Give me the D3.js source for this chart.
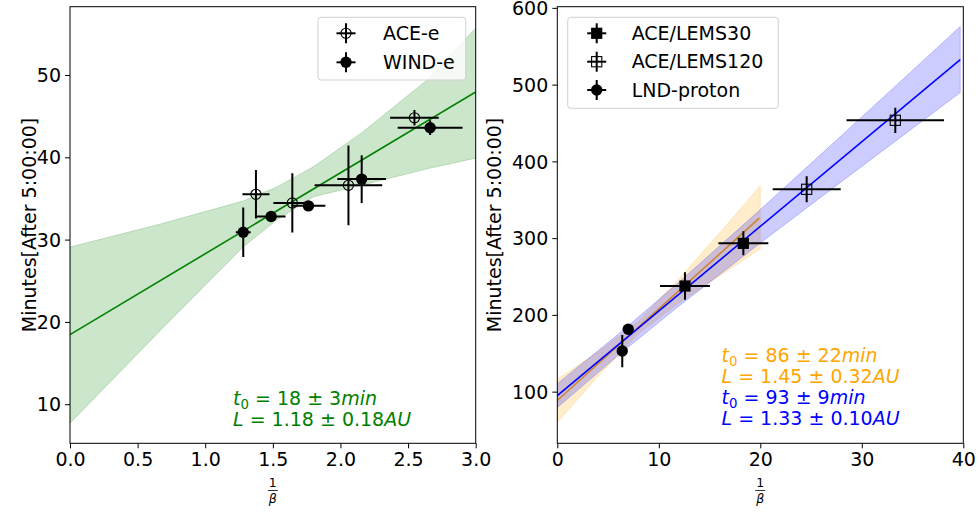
<!DOCTYPE html>
<html><head><meta charset="utf-8">
<script src="https://cdn.jsdelivr.net/npm/d3@7"></script>
<style>body{margin:0;background:#fff} text{font-family:"DejaVu Sans",sans-serif}</style>
</head><body><svg id="c" width="979" height="512"></svg>
<script>
// ---------- Left panel data ----------
const aceE_x    = [1.375, 1.644, 2.059, 2.547];
const aceE_y    = [35.5, 34.45, 36.6, 44.8];
const aceE_xerr = [0.10, 0.14, 0.25, 0.18];
const aceE_yerr = [2.95, 3.6, 4.85, 0.95];

const windE_x    = [1.281, 1.487, 1.763, 2.157, 2.663];
const windE_y    = [30.9, 32.8, 34.1, 37.35, 43.6];
const windE_xerr = [0.055, 0.107, 0.125, 0.18, 0.24];
const windE_yerr = [3.0, 0.3, 0.6, 2.9, 0.9];

const greenFit_x = [0, 3];
const greenFit_y = [18.45, 47.95];
const greenBand_x  = [0, 0.67, 1.28, 1.53, 1.8, 2.15, 2.4, 2.64, 3.0];
const greenBand_hi = [29.1, 31.9, 34.7, 36.4, 38.85, 42.9, 46.2, 49.4, 55.7];
const greenBand_lo = [7.7, 19.0, 29.1, 32.4, 35.2, 36.6, 37.6, 38.6, 39.9];

const leftXTicks = [0, 0.5, 1.0, 1.5, 2.0, 2.5, 3.0];
const leftYTicks = [10, 20, 30, 40, 50];

// ---------- Right panel data ----------
const lems30_x    = [12.58, 18.33];
const lems30_y    = [237.6, 293.2];
const lems30_xerr = [2.46, 2.46];
const lems30_yerr = [18, 15.6];

const lems120_x    = [24.57, 33.3];
const lems120_y    = [363.6, 453.5];
const lems120_xerr = [3.35, 4.8];
const lems120_yerr = [17, 16.5];

const lnd_x    = [6.40, 6.99];
const lnd_y    = [152.9, 181.2];
const lnd_xerr = [0.1, 0.1];
const lnd_yerr = [21, 3];

const blueFit_x = [0, 39.7];
const blueFit_y = [94.8, 532.5];
const blueBand_x  = [0, 6, 12, 20, 28, 34, 39.7];
const blueBand_lo = [79.3, 147.3, 211.7, 293.6, 373.6, 433.2, 489.6];
const blueBand_hi = [110.3, 174.7, 242.7, 337.2, 433.6, 506.4, 575.8];

const orangeFit_x = [0, 19.9];
const orangeFit_y = [88.5, 326];
const orangeBand_x  = [0, 4, 8, 12, 16, 20];
const orangeBand_lo = [60, 120, 175.4, 215.7, 251, 286];
const orangeBand_hi = [116, 151.5, 191.8, 247.1, 307, 368];

const rightXTicks = [0, 10, 20, 30, 40];
const rightYTicks = [100, 200, 300, 400, 500, 600];

// ---------- drawing ----------
const svg = d3.select("#c");
const FS = 19;
const yTop = 6.7, yBot = 443.3;

function panel(opts) {
  const x = d3.scaleLinear().domain(opts.xdom).range([opts.x0, opts.x1]);
  const y = d3.scaleLinear().domain(opts.ydom).range([yBot, yTop]);
  const g = svg.append("g");
  g.append("defs").append("clipPath").attr("id", opts.id)
    .append("rect").attr("x", opts.x0).attr("y", yTop)
    .attr("width", opts.x1 - opts.x0).attr("height", yBot - yTop);
  const plot = g.append("g").attr("clip-path", `url(#${opts.id})`);
  return {x, y, g, plot};
}

function band(P, xs, lo, hi, color) {
  const d = xs.map((v, i) => ({x: v, lo: lo[i], hi: hi[i]}));
  const area = d3.area().x(q => P.x(q.x)).y0(q => P.y(q.lo)).y1(q => P.y(q.hi));
  P.plot.append("path").attr("d", area(d)).attr("fill", color).attr("fill-opacity", 0.2)
    .attr("stroke", color).attr("stroke-opacity", 0.2).attr("stroke-width", 1);
}
function fitLine(P, xs, ys, color) {
  const d = xs.map((v, i) => [v, ys[i]]);
  P.plot.append("path").attr("d", d3.line().x(q => P.x(q[0])).y(q => P.y(q[1]))(d))
    .attr("fill", "none").attr("stroke", color).attr("stroke-width", 1.6);
}
function errPoints(P, xs, ys, xe, ye, marker) {
  const gg = P.plot.append("g");
  xs.forEach((v, i) => {
    const cx = P.x(v), cy = P.y(ys[i]);
    gg.append("line").attr("x1", P.x(v - xe[i])).attr("x2", P.x(v + xe[i]))
      .attr("y1", cy).attr("y2", cy).attr("stroke", "#000").attr("stroke-width", 2);
    gg.append("line").attr("x1", cx).attr("x2", cx)
      .attr("y1", P.y(ys[i] - ye[i])).attr("y2", P.y(ys[i] + ye[i]))
      .attr("stroke", "#000").attr("stroke-width", 2);
    drawMarker(gg, cx, cy, marker);
  });
}
function drawMarker(gg, cx, cy, m) {
  if (m === "fc") gg.append("circle").attr("cx", cx).attr("cy", cy).attr("r", 5.7).attr("fill", "#000");
  if (m === "oc") gg.append("circle").attr("cx", cx).attr("cy", cy).attr("r", 5.1)
      .attr("fill", "none").attr("stroke", "#000").attr("stroke-width", 1.1);
  if (m === "fs") gg.append("rect").attr("x", cx - 5.6).attr("y", cy - 5.6).attr("width", 11.2).attr("height", 11.2).attr("fill", "#000");
  if (m === "os") gg.append("rect").attr("x", cx - 5.1).attr("y", cy - 5.1).attr("width", 10.2).attr("height", 10.2)
      .attr("fill", "none").attr("stroke", "#000").attr("stroke-width", 1.1);
}
function axes(P, xt, yt, xfmt, yfmt, opts) {
  const ax = P.g.append("g").attr("transform", `translate(0,${yBot})`)
    .call(d3.axisBottom(P.x).tickValues(xt).tickFormat(xfmt).tickSize(5).tickPadding(4));
  const ay = P.g.append("g").attr("transform", `translate(${opts.x0},0)`)
    .call(d3.axisLeft(P.y).tickValues(yt).tickFormat(yfmt).tickSize(5).tickPadding(4));
  [ax, ay].forEach(a => {
    a.select(".domain").remove();
    a.selectAll("text").attr("font-size", FS).attr("fill", "#000").attr("font-family", "DejaVu Sans");
    a.selectAll("line").attr("stroke", "#000").attr("stroke-width", 1);
  });
  ay.selectAll("text").attr("dy", "0.35em");
  P.g.append("rect").attr("x", opts.x0).attr("y", yTop).attr("width", opts.x1 - opts.x0)
    .attr("height", yBot - yTop).attr("fill", "none").attr("stroke", "#000").attr("stroke-width", 1);
  P.g.append("text").attr("transform", `translate(${opts.ylabX},${(yTop + yBot) / 2}) rotate(-90)`)
    .attr("text-anchor", "middle").attr("font-size", FS).text("Minutes[After 5:00:00]");
  const cx = (opts.x0 + opts.x1) / 2;
  P.g.append("text").attr("x", cx).attr("y", 487).attr("text-anchor", "middle").attr("font-size", 12.5).text("1");
  P.g.append("line").attr("x1", cx - 5).attr("x2", cx + 5).attr("y1", 490.5).attr("y2", 490.5)
    .attr("stroke", "#000").attr("stroke-width", 0.8);
  P.g.append("text").attr("x", cx).attr("y", 502.5).attr("text-anchor", "middle").attr("font-size", 12.5)
    .attr("font-style", "italic").text("β");
}
function mathText(x, y, parts, color) {
  const t = svg.append("text").attr("x", x).attr("y", y).attr("font-size", FS).attr("fill", color);
  parts.forEach(p => {
    const s = t.append("tspan").text(p.t);
    if (p.it) s.attr("font-style", "italic");
    if (p.sub) s.attr("font-size", FS * 0.7).attr("dy", 4);
    if (p.after) s.attr("dy", -4);
  });
}
function legend(x, y, w, h, items, mx, tx, rows) {
  const g = svg.append("g");
  g.append("rect").attr("x", x).attr("y", y).attr("width", w).attr("height", h).attr("rx", 3)
    .attr("fill", "#fff").attr("fill-opacity", 0.8).attr("stroke", "#d0d0d0").attr("stroke-width", 1);
  items.forEach((it, i) => {
    const cy = rows[i];
    g.append("line").attr("x1", mx - 9.5).attr("x2", mx + 9.5).attr("y1", cy).attr("y2", cy).attr("stroke", "#000").attr("stroke-width", 2);
    g.append("line").attr("x1", mx).attr("x2", mx).attr("y1", cy - 10).attr("y2", cy + 10).attr("stroke", "#000").attr("stroke-width", 2);
    drawMarker(g, mx, cy, it.m);
    g.append("text").attr("x", tx).attr("y", cy).attr("dy", "0.35em").attr("font-size", FS).text(it.label);
  });
}

// ----- Left panel -----
const LP = panel({id: "clipL", xdom: [0, 3], ydom: [5.25, 58.3], x0: 70, x1: 475.7});
band(LP, greenBand_x, greenBand_lo, greenBand_hi, "#008000");
fitLine(LP, greenFit_x, greenFit_y, "#008000");
errPoints(LP, aceE_x, aceE_y, aceE_xerr, aceE_yerr, "oc");
errPoints(LP, windE_x, windE_y, windE_xerr, windE_yerr, "fc");
axes(LP, leftXTicks, leftYTicks, d3.format(".1f"), d3.format("d"), {x0: 70, x1: 475.7, ylabX: 36});
legend(318, 17.3, 147.7, 62.7, [{m: "oc", label: "ACE-e"}, {m: "fc", label: "WIND-e"}], 346, 383, [33.3, 62.3]);
mathText(233, 405, [{t: "t", it: true}, {t: "0", sub: true}, {t: " = 18 ± 3", after: true}, {t: "min", it: true}], "#008000");
mathText(233, 426, [{t: "L", it: true}, {t: " = 1.18 ± 0.18"}, {t: "AU", it: true}], "#008000");

// ----- Right panel -----
const RP = panel({id: "clipR", xdom: [0, 40], ydom: [32.7, 601.5], x0: 557.3, x1: 963.3});
band(RP, orangeBand_x, orangeBand_lo, orangeBand_hi, "#FFA500");
fitLine(RP, orangeFit_x, orangeFit_y, "#FFA500");
band(RP, blueBand_x, blueBand_lo, blueBand_hi, "#0000FF");
fitLine(RP, blueFit_x, blueFit_y, "#0000FF");
errPoints(RP, lems30_x, lems30_y, lems30_xerr, lems30_yerr, "fs");
errPoints(RP, lems120_x, lems120_y, lems120_xerr, lems120_yerr, "os");
errPoints(RP, lnd_x, lnd_y, lnd_xerr, lnd_yerr, "fc");
axes(RP, rightXTicks, rightYTicks, d3.format("d"), d3.format("d"), {x0: 557.3, x1: 963.3, ylabX: 501});
legend(567.7, 17.3, 210.6, 91, [{m: "fs", label: "ACE/LEMS30"}, {m: "os", label: "ACE/LEMS120"}, {m: "fc", label: "LND-proton"}], 596.7, 631.7, [33.3, 61.7, 90]);
mathText(721.5, 362, [{t: "t", it: true}, {t: "0", sub: true}, {t: " = 86 ± 22", after: true}, {t: "min", it: true}], "#FFA500");
mathText(721.5, 383.3, [{t: "L", it: true}, {t: " = 1.45 ± 0.32"}, {t: "AU", it: true}], "#FFA500");
mathText(721.5, 404, [{t: "t", it: true}, {t: "0", sub: true}, {t: " = 93 ± 9", after: true}, {t: "min", it: true}], "#0000FF");
mathText(721.5, 424.5, [{t: "L", it: true}, {t: " = 1.33 ± 0.10"}, {t: "AU", it: true}], "#0000FF");
</script></body></html>
